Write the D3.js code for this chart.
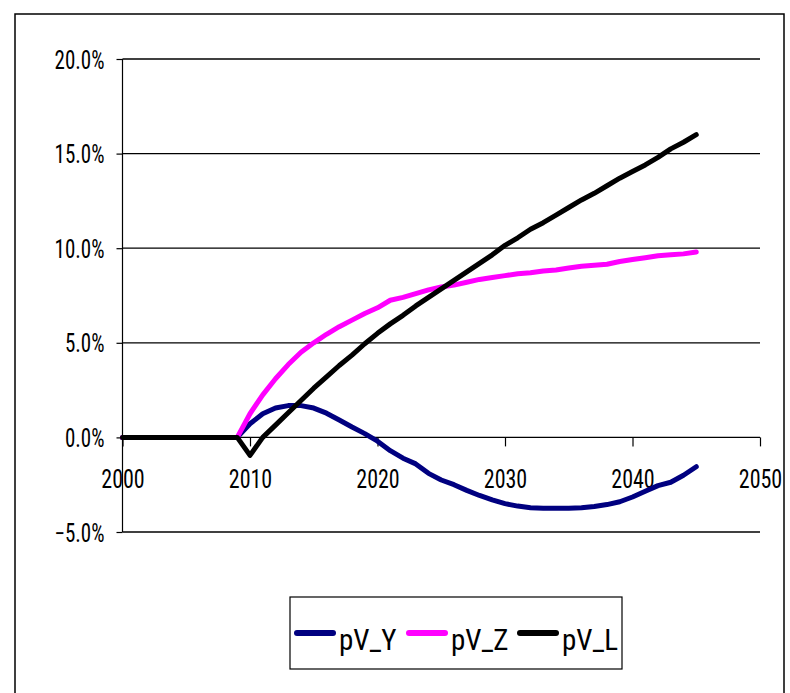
<!DOCTYPE html>
<html><head><meta charset="utf-8">
<script src="https://cdn.jsdelivr.net/npm/d3@7/dist/d3.min.js"></script>
<style>body{margin:0;background:#fff}svg{display:block}</style>
</head><body>
<svg id="c" width="790" height="693"></svg>
<script>
const years = [2000,2001,2002,2003,2004,2005,2006,2007,2008,2009,
  2010,2011,2012,2013,2014,2015,2016,2017,2018,2019,
  2020,2021,2022,2023,2024,2025,2026,2027,2028,2029,
  2030,2031,2032,2033,2034,2035,2036,2037,2038,2039,
  2040,2041,2042,2043,2044,2045];
const pV_Y = [0,0,0,0,0,0,0,0,0,0,
  0.72,1.25,1.55,1.68,1.68,1.55,1.28,0.92,0.55,0.2,
  -0.2,-0.7,-1.1,-1.4,-1.9,-2.25,-2.5,-2.8,-3.07,-3.3,
  -3.5,-3.63,-3.72,-3.75,-3.75,-3.75,-3.72,-3.65,-3.55,-3.4,
  -3.15,-2.85,-2.55,-2.37,-2.0,-1.55];
const pV_Z = [0,0,0,0,0,0,0,0,0,0,
  1.25,2.25,3.1,3.85,4.5,5.0,5.45,5.85,6.2,6.55,
  6.85,7.25,7.4,7.6,7.8,7.95,8.05,8.2,8.35,8.45,
  8.55,8.65,8.7,8.8,8.85,8.95,9.05,9.1,9.15,9.3,
  9.4,9.5,9.6,9.65,9.7,9.8];
const pV_L = [0,0,0,0,0,0,0,0,0,0,
  -0.95,0.0,0.65,1.3,1.95,2.6,3.2,3.8,4.35,4.95,
  5.5,6.0,6.45,6.95,7.4,7.85,8.3,8.75,9.2,9.65,
  10.15,10.55,11.0,11.35,11.75,12.15,12.55,12.9,13.3,13.7,
  14.05,14.4,14.8,15.25,15.6,16.0];
const seriesNames = ["pV_Y","pV_Z","pV_L"];
const seriesColors = ["#000080","#FF00FF","#000000"];
const xTicks = [2000,2010,2020,2030,2040,2050];
const yTicks = [-5,0,5,10,15,20];

const series = [pV_Y, pV_Z, pV_L].map((vals,i)=>({name:seriesNames[i], color:seriesColors[i], vals}));

const svg = d3.select("#c");
const FONT = "'Liberation Sans Narrow','Arial Narrow','Roboto Condensed',sans-serif";

// outer chart frame
svg.append("rect").attr("x",15).attr("y",14).attr("width",769).attr("height",700)
  .attr("fill","#fff").attr("stroke","#000").attr("stroke-width",1.5);

const x = d3.scaleLinear().domain([2000,2050]).range([122.5,760]);
const y = d3.scaleLinear().domain([-5,20]).range([532,59]);

// gridlines
svg.append("g").selectAll("line").data(yTicks.filter(t=>t!==0)).join("line")
  .attr("x1",x(2000)).attr("x2",x(2050)).attr("y1",d=>y(d)).attr("y2",d=>y(d))
  .attr("stroke","#000").attr("stroke-width",1.3);

// y axis
const ya = svg.append("g").attr("transform",`translate(${x(2000)},0)`)
  .call(d3.axisLeft(y).tickValues(yTicks).tickSize(6).tickPadding(0).tickFormat(d=>d3.format(".1f")(d)+"%"));
ya.select(".domain").attr("stroke","#000").attr("stroke-width",1.2).attr("d",`M0,${y(20)}V${y(-5)}`);
ya.selectAll(".tick line").attr("stroke","#000").attr("stroke-width",1.2);
ya.selectAll(".tick text").attr("font-family",FONT).attr("font-size",25).attr("fill","#000")
  .attr("text-anchor","end").attr("dy",null).attr("x",null).attr("y",null)
  .attr("transform","translate(-18,9) scale(0.84,1)");

// x axis at y=0
const xa = svg.append("g").attr("transform",`translate(0,${y(0)})`)
  .call(d3.axisBottom(x).tickValues(xTicks).tickSize(9).tickPadding(0).tickFormat(d3.format("d")));
xa.select(".domain").attr("stroke","#000").attr("stroke-width",1.2).attr("d",`M${x(2000)},0H${x(2050)}`);
xa.selectAll(".tick line").attr("stroke","#000").attr("stroke-width",1.2);
xa.selectAll(".tick text").attr("font-family",FONT).attr("font-size",25).attr("fill","#000")
  .attr("dy",null).attr("y",null).attr("transform","translate(0,51) scale(0.88,1)");

// lines
const line = d3.line().x((d,i)=>x(years[i])).y(d=>y(d));
svg.append("g").selectAll("path").data(series).join("path")
  .attr("d",d=>line(d.vals)).attr("fill","none").attr("stroke",d=>d.color)
  .attr("stroke-width",5).attr("stroke-linejoin","round").attr("stroke-linecap","round");

// legend
const lg = svg.append("g");
lg.append("rect").attr("x",290).attr("y",597).attr("width",332).attr("height",72)
  .attr("fill","#fff").attr("stroke","#000").attr("stroke-width",1.2);
const legX = [297,409,520];
const items = lg.selectAll("g.it").data(series).join("g").attr("class","it")
  .attr("transform",(d,i)=>`translate(${legX[i]},633)`);
items.append("line").attr("x1",0).attr("x2",36).attr("y1",0).attr("y2",0)
  .attr("stroke",d=>d.color).attr("stroke-width",6).attr("stroke-linecap","round");
items.append("text").attr("x",42).attr("y",17).attr("font-family",FONT).attr("font-size",29)
  .attr("fill","#000").text(d=>d.name);
</script>
</body></html>
